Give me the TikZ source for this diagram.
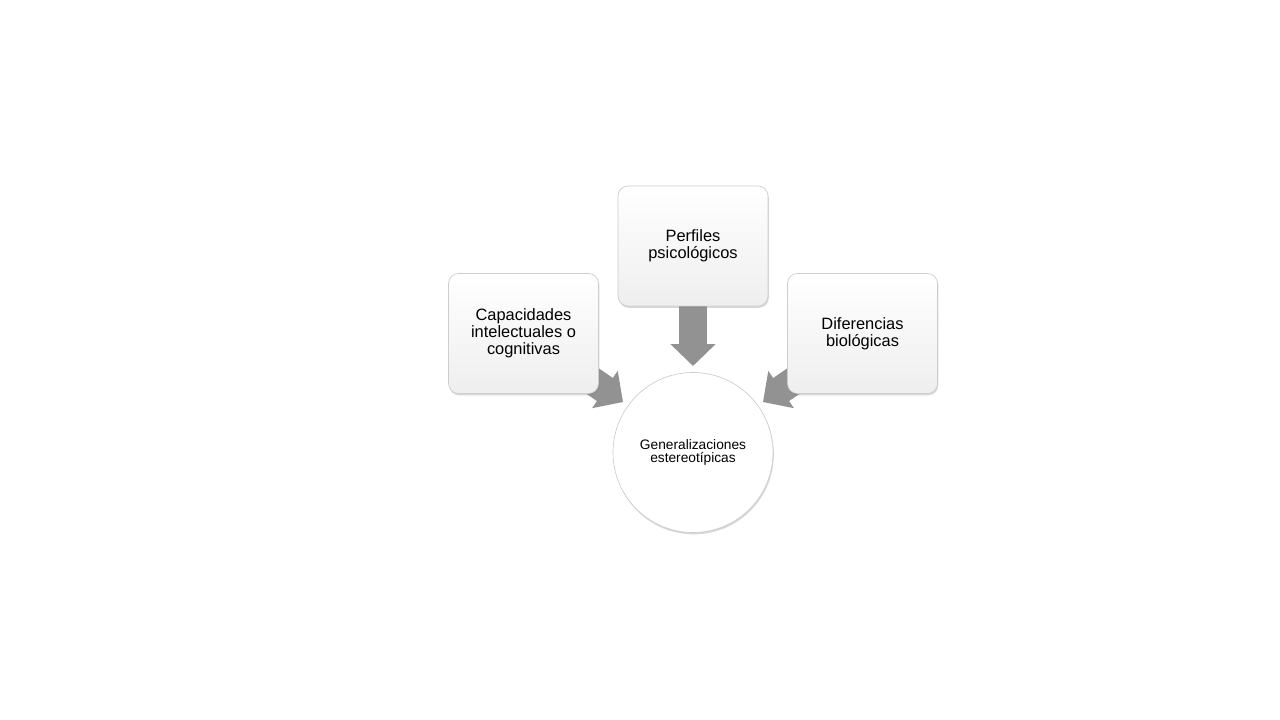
\documentclass[tikz,border=0pt]{standalone}
\usepackage{fontspec}
\setmainfont{Liberation Sans}
\usetikzlibrary{arrows.meta,shadows,backgrounds}
\definecolor{arrowgray}{RGB}{146,146,146}
\definecolor{boxline}{RGB}{205,205,205}
\begin{document}
\begin{tikzpicture}[x=0.75pt,y=-0.75pt,
  softshadow/.style={drop shadow={opacity=0.30,shadow xshift=0.6pt,shadow yshift=-1.4pt}},
  infobox/.style={draw=boxline,line width=0.5pt,rounded corners=7.5pt,
    top color=white,bottom color=gray!13,softshadow,
    minimum width=112.5pt,minimum height=90pt,inner sep=2pt,align=center,
    font=\fontsize{12.3}{12.8}\selectfont},
  hubcircle/.style={circle,draw=boxline,line width=0.5pt,fill=white,softshadow,
    minimum size=120pt,inner sep=0pt,align=center,
    font=\fontsize{10.3}{10}\selectfont},
  blockarrow/.style={draw=arrowgray,line width=21pt,
    -{Triangle[width=33pt,length=16.5pt]}}]
\path[use as bounding box] (0,0) rectangle (1280,720);

\node[infobox] (lbox) at (523.5,333.5) {Capacidades\\intelectuales o\\cognitivas};
\node[infobox] (tbox) at (693,246) {Perfiles\\psicológicos};
\node[infobox] (rbox) at (862.5,333.5) {Diferencias\\biológicas};
\node[hubcircle] (hub) at (693,452.5) {Generalizaciones\\estereotípicas};

\coordinate (ltip) at (623,402);
\coordinate (ttip) at (693,366);
\coordinate (rtip) at (763,402);

\begin{scope}[on background layer]
\fill[white] (0,0) rectangle (1280,720);
\draw[blockarrow] (lbox.center) -- (ltip);
\draw[blockarrow] (tbox.center) -- (ttip);
\draw[blockarrow] (rbox.center) -- (rtip);
\end{scope}
\end{tikzpicture}
\end{document}
